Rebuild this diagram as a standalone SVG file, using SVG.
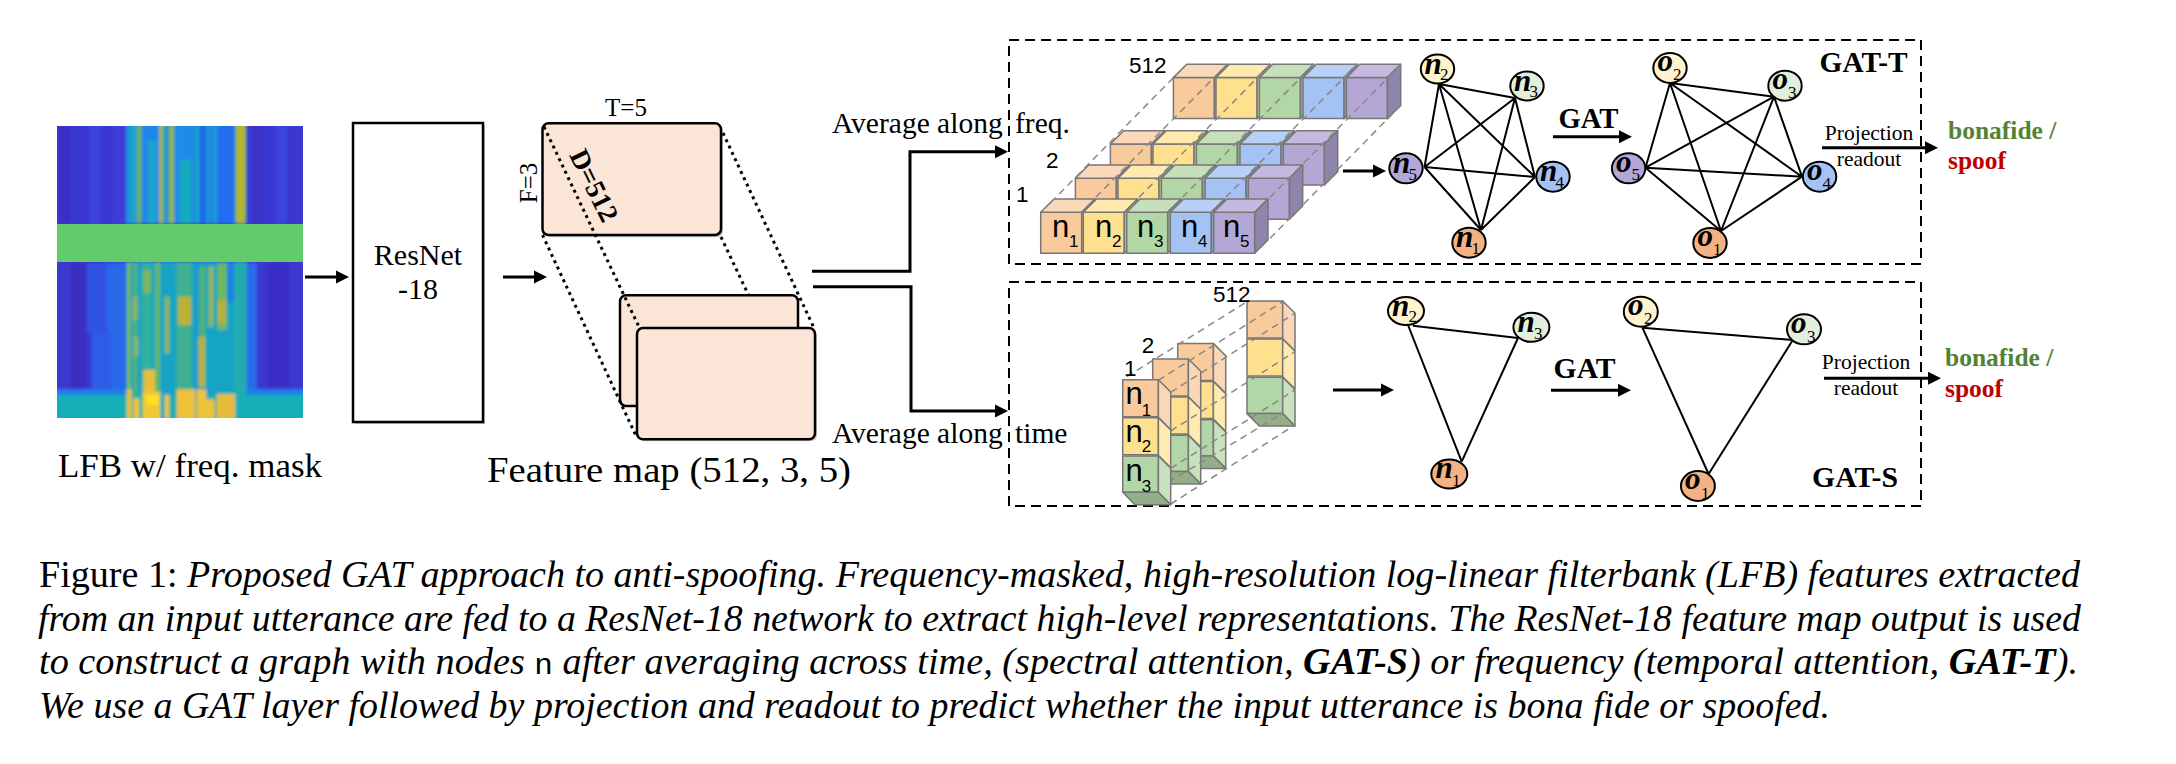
<svg xmlns="http://www.w3.org/2000/svg" xmlns:xlink="http://www.w3.org/1999/xlink" width="2176" height="764" viewBox="0 0 2176 764">
<style>
text{font-family:"Liberation Serif",serif;fill:#000}
.sans{font-family:"Liberation Sans",sans-serif}
.b{font-weight:bold}
.mid{text-anchor:middle}
.cap{font-size:37px}
.i{font-style:italic}
.bi{font-weight:bold;font-style:italic}
.avg{font-size:29.5px}
.proj{font-size:21.5px;text-anchor:middle}
.out{font-size:25.5px;font-weight:bold}
.gat{font-size:29px;font-weight:bold}
.idx{font-size:22.5px;font-family:"Liberation Sans",sans-serif}
.cn{font-size:31px;font-family:"Liberation Sans",sans-serif}
.cs{font-size:17px;font-family:"Liberation Sans",sans-serif}
.nn{font-size:31px;font-weight:bold;font-style:italic}
.ns{font-size:17px}
.conn{fill:none;stroke:#000;stroke-width:3}
.edge{fill:none;stroke:#000;stroke-width:2}
.dash{fill:none;stroke:#000;stroke-width:2;stroke-dasharray:10 6}
.dot{fill:none;stroke:#000;stroke-width:3;stroke-dasharray:3 4}
.guide{fill:none;stroke:#888;stroke-width:1.5;stroke-dasharray:7 5}
.map{fill:#FBE5D6;stroke:#000;stroke-width:2.5}
.sh{fill:#c8c8c8}
.node{stroke:#000;stroke-width:2}
.c{stroke:#777;stroke-width:1.5;stroke-linejoin:round}
</style>
<defs>
<marker id="ah" markerUnits="userSpaceOnUse" markerWidth="14" markerHeight="14" refX="7" refY="7" orient="auto"><path d="M0 0.5L13 7L0 13.5z" fill="#000"/></marker>
<filter id="soft" x="-5%" y="-5%" width="110%" height="110%"><feGaussianBlur stdDeviation="4"/></filter>
<clipPath id="specclip"><rect x="57" y="126" width="246" height="292"/></clipPath>
<g id="cO"><rect class="c" width="41" height="41" fill="#F9CB9C"/><path class="c" d="M0 0L13.3 -13.3H54.3L41 0z" fill="#FAD8B8"/><path class="c" d="M41 0L54.3 -13.3V27.7L41 41z" fill="#C9A888"/></g>
<g id="cY"><rect class="c" width="41" height="41" fill="#FFE08F"/><path class="c" d="M0 0L13.3 -13.3H54.3L41 0z" fill="#FFE9AE"/><path class="c" d="M41 0L54.3 -13.3V27.7L41 41z" fill="#CDBB80"/></g>
<g id="cG"><rect class="c" width="41" height="41" fill="#B3D6A6"/><path class="c" d="M0 0L13.3 -13.3H54.3L41 0z" fill="#C7E0BC"/><path class="c" d="M41 0L54.3 -13.3V27.7L41 41z" fill="#93AE88"/></g>
<g id="cB"><rect class="c" width="41" height="41" fill="#A4C2F4"/><path class="c" d="M0 0L13.3 -13.3H54.3L41 0z" fill="#B6D0F7"/><path class="c" d="M41 0L54.3 -13.3V27.7L41 41z" fill="#869EC6"/></g>
<g id="cP"><rect class="c" width="41" height="41" fill="#B4A7D6"/><path class="c" d="M0 0L13.3 -13.3H54.3L41 0z" fill="#C4BADF"/><path class="c" d="M41 0L54.3 -13.3V27.7L41 41z" fill="#8F84AB"/></g>
<g id="row"><use xlink:href="#cO"/><use xlink:href="#cY" x="42.6"/><use xlink:href="#cG" x="86"/><use xlink:href="#cB" x="129.6"/><use xlink:href="#cP" x="173"/></g>
<g id="col">
<rect class="c" y="0" width="35.7" height="37" fill="#F9CB9C"/><path class="c" d="M35.7 0L48 12.3V50L35.7 37.7z" fill="#FBD7B8"/>
<rect class="c" y="38" width="35.7" height="37" fill="#FFE08F"/><path class="c" d="M35.7 38L48 50.3V88L35.7 75.7z" fill="#FFEBB0"/>
<rect class="c" y="76.3" width="35.7" height="36.3" fill="#B3D6A6"/><path class="c" d="M35.7 76.3L48 88.6V125L35.7 112.6z" fill="#C7E2BC"/>
<path class="c" d="M0 112.6H35.7L48 125H12.3z" fill="#93AE88"/>
</g>
</defs>

<g id="spectrogram">
<g clip-path="url(#specclip)"><g transform="translate(50 120) scale(.33333)"><g filter="url(#soft)">
<rect x="0" y="0" width="780" height="915" fill="#3B38D2"/>
<rect x="30" y="0" width="30" height="310" fill="#3A2FC4"/><rect x="120" y="0" width="30" height="310" fill="#3E42DC"/><rect x="190" y="0" width="36" height="310" fill="#3C3ED8"/>
<rect x="610" y="0" width="30" height="310" fill="#3A30C6"/><rect x="680" y="0" width="30" height="310" fill="#3E44DE"/>
<rect x="60" y="430" width="50" height="380" fill="#3A2EC2"/><rect x="650" y="430" width="70" height="380" fill="#3A2FC6"/>
<rect x="110" y="430" width="118" height="210" fill="#2F52E2"/><rect x="170" y="430" width="58" height="380" fill="#2A68EA"/><rect x="125" y="640" width="60" height="170" fill="#2E5CE6"/>
<rect x="590" y="430" width="30" height="380" fill="#2A6CE8"/>
<rect x="228" y="0" width="34" height="310" fill="#1E90E0"/><rect x="242" y="0" width="20" height="310" fill="#1CA4C8"/>
<rect x="262" y="0" width="13" height="310" fill="#6FB858"/>
<rect x="275" y="0" width="52" height="310" fill="#1E86EA"/><rect x="292" y="60" width="26" height="250" fill="#1CA2CC"/>
<rect x="327" y="0" width="13" height="310" fill="#A0B838"/>
<rect x="340" y="0" width="18" height="310" fill="#1AA0C8"/>
<rect x="358" y="0" width="15" height="310" fill="#98B840"/>
<rect x="373" y="0" width="64" height="310" fill="#1C8CE8"/><rect x="390" y="120" width="34" height="190" fill="#16AAC0"/>
<rect x="437" y="0" width="10" height="310" fill="#14AEB8"/>
<rect x="447" y="0" width="23" height="310" fill="#1C6CEC"/>
<rect x="470" y="0" width="8" height="310" fill="#18A8C0"/>
<rect x="478" y="0" width="17" height="310" fill="#1C88E8"/>
<rect x="495" y="0" width="8" height="310" fill="#18A8C0"/>
<rect x="503" y="0" width="52" height="310" fill="#206CF0"/>
<rect x="555" y="0" width="33" height="310" fill="#70B850"/><rect x="562" y="0" width="20" height="310" fill="#BCB428"/>
<rect x="228" y="427" width="362" height="400" fill="#14A4C4"/>
<rect x="232" y="427" width="10" height="400" fill="#80B850"/>
<rect x="250" y="427" width="12" height="400" fill="#50B47C"/><rect x="250" y="530" width="12" height="70" fill="#98B840"/><rect x="252" y="650" width="12" height="60" fill="#90B848"/>
<rect x="275" y="427" width="30" height="400" fill="#30B0A0"/><rect x="280" y="450" width="22" height="70" fill="#80B858"/>
<rect x="315" y="427" width="15" height="400" fill="#60B868"/>
<rect x="345" y="530" width="13" height="170" fill="#90B848"/>
<rect x="380" y="427" width="45" height="400" fill="#40B090"/><rect x="385" y="530" width="38" height="85" fill="#C0B030"/>
<rect x="438" y="427" width="8" height="400" fill="#1C8CE0"/>
<rect x="446" y="440" width="20" height="360" fill="#50B478"/><rect x="445" y="650" width="20" height="150" fill="#B8B430"/>
<rect x="476" y="440" width="14" height="180" fill="#98B848"/>
<rect x="502" y="430" width="28" height="200" fill="#70B860"/><rect x="504" y="540" width="24" height="70" fill="#B8B038"/>
<rect x="532" y="427" width="20" height="120" fill="#1C80E4"/>
<rect x="552" y="427" width="38" height="400" fill="#22ACB0"/>
<rect x="0" y="808" width="230" height="20" fill="#1E80E8"/><rect x="590" y="808" width="190" height="20" fill="#1E80E8"/>
<rect x="0" y="825" width="780" height="90" fill="#14AEB8"/>
<rect x="230" y="808" width="15" height="90" fill="#E8C034"/><rect x="250" y="835" width="18" height="65" fill="#F0C430"/>
<rect x="280" y="750" width="35" height="75" fill="#E8BE34"/><rect x="278" y="815" width="52" height="85" fill="#F4C830"/><rect x="290" y="825" width="35" height="30" fill="#FFE020"/>
<rect x="345" y="825" width="13" height="70" fill="#F0C430"/>
<rect x="380" y="808" width="55" height="90" fill="#F0C234"/><rect x="440" y="808" width="28" height="90" fill="#F0C234"/><rect x="468" y="838" width="26" height="60" fill="#F0C234"/>
<rect x="500" y="822" width="55" height="75" fill="#E8BC38"/>
</g></g></g>
<rect x="57" y="224" width="246" height="38" fill="#62CB6C"/>
</g>
<text x="58" y="477" font-size="34" textLength="264" lengthAdjust="spacingAndGlyphs">LFB w/ freq. mask</text>

<g id="resnet">
<rect class="sh" x="355" y="125" width="130" height="299"/>
<rect x="353" y="123" width="130" height="299" fill="#fff" stroke="#000" stroke-width="2.5"/>
<text class="mid" x="418" y="265" font-size="30">ResNet</text>
<text class="mid" x="418" y="299" font-size="30">-18</text>
</g>

<g id="feature-map">
<rect class="sh" x="544.5" y="125.3" width="178.5" height="112" rx="6"/>
<rect class="map" x="542.5" y="123.3" width="178.5" height="111.7" rx="6"/>
<rect class="map" x="620" y="295.3" width="178" height="110.7" rx="6"/>
<path class="dot" d="M544 126.7L639 327M542.5 235L637 438M723 133L814 328M721 237L748.5 295"/>
<rect class="sh" x="639" y="330" width="178" height="111.3" rx="6"/>
<rect class="map" x="637" y="328" width="178" height="111.3" rx="6"/>
<text class="mid" x="626" y="115.7" font-size="25">T=5</text>
<text class="mid" transform="translate(536.5 183) rotate(-90)" font-size="25">F=3</text>
<text class="b" transform="translate(569 155) rotate(64)" font-size="27.5">D=512</text>
<text x="487" y="481.7" font-size="36" textLength="364" lengthAdjust="spacingAndGlyphs">Feature map (512, 3, 5)</text>
</g>

<g id="connectors">
<line class="conn" x1="305" y1="277" x2="343" y2="277" marker-end="url(#ah)"/>
<line class="conn" x1="503" y1="277" x2="541" y2="277" marker-end="url(#ah)"/>
<path class="conn" stroke-width="3.5" d="M812 271.3H910V151.7H1002" marker-end="url(#ah)"/>
<path class="conn" stroke-width="3.5" d="M813 286.7H911V411H1002" marker-end="url(#ah)"/>
<line class="conn" x1="1343" y1="171" x2="1380" y2="171" marker-end="url(#ah)"/>
<line class="conn" x1="1553" y1="136.7" x2="1626" y2="136.7" marker-end="url(#ah)"/>
<line class="conn" x1="1822" y1="147.7" x2="1932" y2="147.7" marker-end="url(#ah)"/>
<line class="conn" x1="1333" y1="390" x2="1388" y2="390" marker-end="url(#ah)"/>
<line class="conn" x1="1551" y1="390.3" x2="1625" y2="390.3" marker-end="url(#ah)"/>
<line class="conn" x1="1824" y1="378.3" x2="1935" y2="378.3" marker-end="url(#ah)"/>
</g>
<text class="avg" x="832" y="133.3">Average along <tspan x="1015">freq.</tspan></text>
<text class="avg" x="832" y="442.7">Average along <tspan x="1015">time</tspan></text>

<g id="gat-t">
<rect class="dash" x="1009" y="40" width="912" height="224"/>
<g id="cubes-t">
<use xlink:href="#row" x="1173.4" y="77.6"/>
<use xlink:href="#row" x="1110.4" y="144"/>
<use xlink:href="#row" x="1075.4" y="178.3"/>
<path class="guide" d="M1173.3 77.7L1055 198.3M1227.3 64.3L1094 199M1270.7 64.3L1137.3 199M1314 64.3L1180.7 199M1357.3 64.3L1224 199M1401.3 64.3L1268.3 199M1401.3 105L1268.3 240"/>
<use xlink:href="#row" x="1040.7" y="212.3"/>
<text class="idx" x="1129" y="73">512</text>
<text class="idx" x="1046" y="167.7">2</text>
<text class="idx" x="1016" y="201.7">1</text>
<text class="cn" x="1052" y="236.7">n</text><text class="cs" x="1069" y="247">1</text>
<text class="cn" x="1095" y="236.7">n</text><text class="cs" x="1112" y="247">2</text>
<text class="cn" x="1137" y="236.7">n</text><text class="cs" x="1154" y="247">3</text>
<text class="cn" x="1181" y="236.7">n</text><text class="cs" x="1198" y="247">4</text>
<text class="cn" x="1223" y="236.7">n</text><text class="cs" x="1240" y="247">5</text>
</g>
<g id="edges-tn"><path class="edge" d="M1439 84L1515 98M1439 84L1535 177M1439 84L1424.5 167M1439 84L1481 230M1515 98L1535 177M1515 98L1424.5 167M1515 98L1481 230M1535 177L1424.5 167M1535 177L1481 230M1424.5 167L1481 230"/></g>
<g id="edges-to"><path class="edge" d="M1670 83L1774 96.7M1670 83L1802 176.7M1670 83L1645.5 167.7M1670 83L1721 231M1774 96.7L1802 176.7M1774 96.7L1645.5 167.7M1774 96.7L1721 231M1802 176.7L1645.5 167.7M1802 176.7L1721 231M1645.5 167.7L1721 231"/></g>
<g id="tn2"><ellipse class="node" cx="1437.5" cy="69" rx="16.7" ry="14.5" fill="#FFF2CC"/><text class="nn" x="1424.5" y="73.5">n</text><text class="ns" x="1440" y="80">2</text></g>
<g id="tn3"><ellipse class="node" cx="1527" cy="86" rx="16.7" ry="14.5" fill="#E2EFDA"/><text class="nn" x="1514" y="90.5">n</text><text class="ns" x="1529.5" y="97">3</text></g>
<g id="tn4"><ellipse class="node" cx="1553" cy="176.7" rx="16.7" ry="15" fill="#A4C2F4"/><text class="nn" x="1540" y="181">n</text><text class="ns" x="1555.5" y="188">4</text></g>
<g id="tn5"><ellipse class="node" cx="1406" cy="168.3" rx="16.7" ry="15" fill="#B4A7D6"/><text class="nn" x="1393" y="173">n</text><text class="ns" x="1408.5" y="179.5">5</text></g>
<g id="tn1"><ellipse class="node" cx="1469" cy="242.7" rx="16.7" ry="15" fill="#F4B183"/><text class="nn" x="1456" y="247">n</text><text class="ns" x="1471.5" y="254">1</text></g>
<g id="to2"><ellipse class="node" cx="1670" cy="68" rx="16.7" ry="15" fill="#FFF2CC"/><text class="nn" x="1657.5" y="71">o</text><text class="ns" x="1673" y="80">2</text></g>
<g id="to3"><ellipse class="node" cx="1785" cy="85.7" rx="16.7" ry="15" fill="#E2EFDA"/><text class="nn" x="1772.5" y="89">o</text><text class="ns" x="1788" y="97.5">3</text></g>
<g id="to4"><ellipse class="node" cx="1819.6" cy="176.7" rx="16.7" ry="15" fill="#A4C2F4"/><text class="nn" x="1807" y="180">o</text><text class="ns" x="1822.6" y="188.5">4</text></g>
<g id="to5"><ellipse class="node" cx="1628.6" cy="168.3" rx="16.7" ry="15" fill="#B4A7D6"/><text class="nn" x="1616" y="172">o</text><text class="ns" x="1631.6" y="180">5</text></g>
<g id="to1"><ellipse class="node" cx="1710" cy="243" rx="16.7" ry="15" fill="#F4B183"/><text class="nn" x="1697.5" y="246">o</text><text class="ns" x="1713" y="255">1</text></g>
<text class="gat" x="1558.5" y="128" textLength="60" lengthAdjust="spacingAndGlyphs">GAT</text>
<text class="gat" x="1819.6" y="72.3" font-size="28" textLength="88" lengthAdjust="spacingAndGlyphs">GAT-T</text>
<text class="proj" x="1869" y="140">Projection</text>
<text class="proj" x="1869" y="166">readout</text>
<text class="out" x="1948" y="139" style="fill:#548235">bonafide /</text>
<text class="out" x="1948" y="169" style="fill:#C00000">spoof</text>
</g>

<g id="gat-s">
<rect class="dash" x="1009" y="282" width="912" height="224"/>
<g id="cubes-s">
<use xlink:href="#col" x="1247" y="301"/>
<use xlink:href="#col" x="1177.7" y="343.4"/>
<use xlink:href="#col" x="1152.7" y="359"/>
<path class="guide" d="M1126.7 376.7L1247 301.7M1158.3 380.3L1282.7 301.7M1170.7 392.3L1295 313.3M1170.7 431L1295 351.7M1170.7 468.3L1295 390M1158.3 488.3L1282.7 413.3M1170.7 504L1295 425"/>
<use xlink:href="#col" x="1122.7" y="379.7"/>
<text class="idx" x="1213" y="301.7">512</text>
<text class="idx" x="1141.7" y="353">2</text>
<text class="idx" x="1124" y="375.7">1</text>
<text class="cn" x="1125.5" y="404">n</text><text class="cs" x="1141.7" y="415.7">1</text>
<text class="cn" x="1125.5" y="442.3">n</text><text class="cs" x="1141.7" y="451.7">2</text>
<text class="cn" x="1125.5" y="480.7">n</text><text class="cs" x="1141.7" y="491.7">3</text>
</g>
<g id="edges-sn"><path class="edge" d="M1413 325.7L1518 338M1408 325L1461.7 461.7M1518 338L1461.7 461.7"/></g>
<g id="edges-so"><path class="edge" d="M1642.4 327.7L1792.8 340M1642.4 327.7L1708.6 474M1792.8 340L1708.6 474"/></g>
<g id="sn2"><ellipse class="node" cx="1406" cy="311" rx="18" ry="14" fill="#FFF2CC"/><text class="nn" x="1392" y="315.5">n</text><text class="ns" x="1408.5" y="322">2</text></g>
<g id="sn3"><ellipse class="node" cx="1531.4" cy="327.3" rx="18" ry="14.5" fill="#E2EFDA"/><text class="nn" x="1517.5" y="331.5">n</text><text class="ns" x="1534" y="339">3</text></g>
<g id="sn1"><ellipse class="node" cx="1449.3" cy="474" rx="18" ry="14.5" fill="#F4B183"/><text class="nn" x="1435.5" y="478">n</text><text class="ns" x="1452" y="485.5">1</text></g>
<g id="so2"><ellipse class="node" cx="1640.8" cy="311.7" rx="17" ry="15" fill="#FFF2CC"/><text class="nn" x="1628" y="314.5">o</text><text class="ns" x="1644" y="324">2</text></g>
<g id="so3"><ellipse class="node" cx="1804" cy="329.3" rx="17" ry="15" fill="#E2EFDA"/><text class="nn" x="1791" y="332.5">o</text><text class="ns" x="1807" y="342">3</text></g>
<g id="so1"><ellipse class="node" cx="1697.9" cy="486" rx="17" ry="15" fill="#F4B183"/><text class="nn" x="1685" y="489">o</text><text class="ns" x="1701" y="499">1</text></g>
<text class="gat" x="1553.6" y="378.3" textLength="62" lengthAdjust="spacingAndGlyphs">GAT</text>
<text class="gat" x="1812" y="486.7" font-size="28" textLength="86" lengthAdjust="spacingAndGlyphs">GAT-S</text>
<text class="proj" x="1866" y="369">Projection</text>
<text class="proj" x="1866" y="395">readout</text>
<text class="out" x="1945" y="366" style="fill:#548235">bonafide /</text>
<text class="out" x="1945" y="396.7" style="fill:#C00000">spoof</text>
</g>

<g id="caption">
<text class="cap" x="39" y="586.7" textLength="2041" lengthAdjust="spacingAndGlyphs">Figure 1: <tspan class="i">Proposed GAT approach to anti-spoofing. Frequency-masked, high-resolution log-linear filterbank (LFB) features extracted</tspan></text>
<text class="cap i" x="38" y="630.7" textLength="2043" lengthAdjust="spacingAndGlyphs">from an input utterance are fed to a ResNet-18 network to extract high-level representations. The ResNet-18 feature map output is used</text>
<text class="cap i" x="39" y="674.3" textLength="2039" lengthAdjust="spacingAndGlyphs">to construct a graph with nodes <tspan style="font-family:'Liberation Mono',monospace;font-style:normal;font-size:30px">n</tspan> after averaging across time, (spectral attention, <tspan class="bi">GAT-S</tspan>) or frequency (temporal attention, <tspan class="bi">GAT-T</tspan>).</text>
<text class="cap i" x="39" y="718.3" textLength="1791" lengthAdjust="spacingAndGlyphs">We use a GAT layer followed by projection and readout to predict whether the input utterance is bona fide or spoofed.</text>
</g>
</svg>
